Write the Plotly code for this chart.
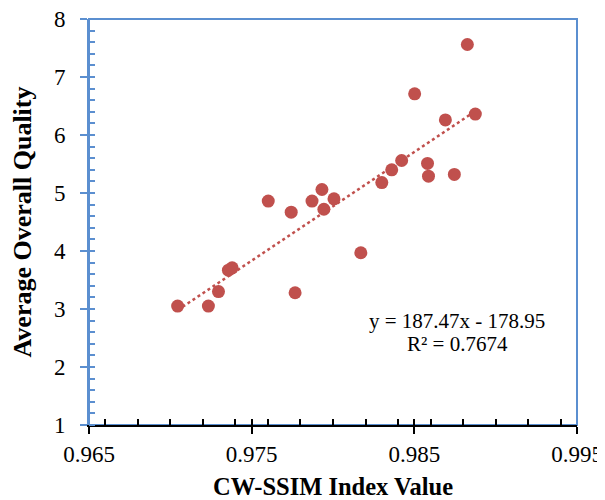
import plotly.graph_objects as go

cw_ssim = [0.97045, 0.97234, 0.97296, 0.97357, 0.97380, 0.97602, 0.97743, 0.97871,
           0.97932, 0.97944, 0.98006, 0.97767, 0.98171, 0.98300, 0.98361, 0.98422,
           0.98502, 0.98581, 0.98587, 0.98691, 0.98746, 0.98826, 0.98875]
quality = [3.05, 3.05, 3.30, 3.67, 3.71, 4.86, 4.67, 4.86,
           5.06, 4.72, 4.90, 3.28, 3.97, 5.18, 5.40, 5.56,
           6.71, 5.51, 5.29, 6.26, 5.32, 7.56, 6.36]
slope = 187.47
intercept = -178.95
r_squared = 0.7674
x_ticks = [0.965, 0.975, 0.985, 0.995]

FONT = "Liberation Serif, Times New Roman, serif"
RED = "#C0504D"
BLUE = "#5B8FD0"

x_min, x_max = min(cw_ssim), max(cw_ssim)
trend_x = [x_min, x_max]
trend_y = [slope * v + intercept for v in trend_x]

fig = go.Figure()
fig.add_trace(go.Scatter(x=trend_x, y=trend_y, mode="lines",
                         line=dict(color=RED, width=2.5, dash="dot"),
                         showlegend=False, hoverinfo="skip"))
fig.add_trace(go.Scatter(x=cw_ssim, y=quality, mode="markers",
                         marker=dict(color=RED, size=13, line=dict(width=0)),
                         showlegend=False))
fig.add_trace(go.Scatter(x=[], y=[], xaxis="x2", yaxis="y2", showlegend=False))

# page is rendered with an 8px body margin, so the figure is offset by 8px
fig.update_layout(
    width=597, height=492,
    margin=dict(l=81, r=28, t=11, b=75),
    paper_bgcolor="white", plot_bgcolor="white",
    font=dict(family=FONT, size=23, color="black"),
    xaxis=dict(range=[0.965, 0.995], tickvals=x_ticks,
               ticktext=[f"{v:.3f}" for v in x_ticks],
               showgrid=False, zeroline=False, automargin=False,
               showline=True, linecolor="black", linewidth=2,
               ticks="outside", ticklen=7, tickwidth=2, tickcolor="black",
               ticklabelstandoff=0, ticklabeloverflow="allow",
               minor=dict(dtick=0.002, ticks="inside", ticklen=6, tickwidth=2,
                          tickcolor="black", showgrid=False),
               title=dict(text="<b>CW-SSIM Index Value</b>", standoff=16,
                          font=dict(size=24.5)),
               tickfont=dict(size=23)),
    yaxis=dict(range=[1, 8], dtick=1,
               showgrid=False, zeroline=False, automargin=False,
               showline=True, linecolor=BLUE, linewidth=2,
               ticks="outside", ticklen=7, tickwidth=2, tickcolor=BLUE,
               ticklabelstandoff=10, ticklabeloverflow="allow",
               minor=dict(dtick=0.2, ticks="inside", ticklen=6, tickwidth=2,
                          tickcolor=BLUE, showgrid=False),
               title=dict(text="<b>Average Overall Quality</b>", standoff=22,
                          font=dict(size=26)),
               tickfont=dict(size=23)),
    xaxis2=dict(overlaying="x", matches="x", anchor="y", showticklabels=False,
                tickvals=x_ticks, ticks="inside", ticklen=6, tickwidth=2,
                tickcolor="black", showgrid=False, zeroline=False, showline=False),
    yaxis2=dict(overlaying="y", matches="y", anchor="x", showticklabels=False,
                dtick=1, ticks="inside", ticklen=6, tickwidth=2,
                tickcolor=BLUE, showgrid=False, zeroline=False, showline=False),
    shapes=[dict(type="rect", xref="x domain", yref="y domain",
                 x0=0, x1=1, y0=0, y1=1, line=dict(color=BLUE, width=2),
                 layer="below")],
    annotations=[
        dict(x=(457 - 89) / 488, y=1 - (321 - 19) / 406, xref="paper", yref="paper",
             text=f"y = {slope:.2f}x - {abs(intercept):.2f}",
             showarrow=False, xanchor="center", yanchor="middle",
             font=dict(family=FONT, size=21, color="black")),
        dict(x=(457 - 89) / 488, y=1 - (344 - 19) / 406, xref="paper", yref="paper",
             text=f"R² = {r_squared:.4f}",
             showarrow=False, xanchor="center", yanchor="middle",
             font=dict(family=FONT, size=21, color="black")),
    ],
)

fig.write_html("out.html")
